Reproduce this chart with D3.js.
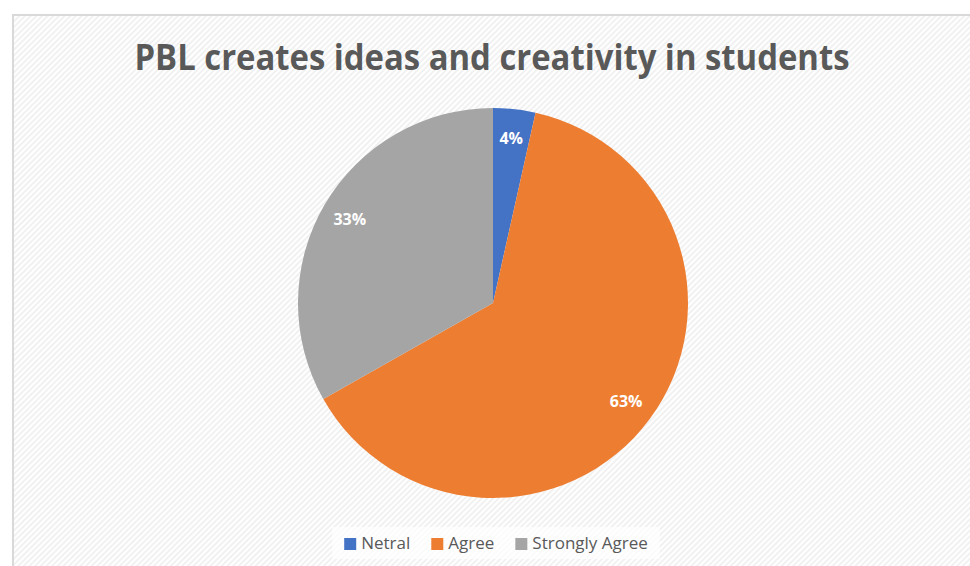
<!DOCTYPE html>
<html>
<head>
<meta charset="utf-8">
<script src="https://cdn.jsdelivr.net/npm/d3@7"></script>
<style>
  body { margin: 0; background: #fff; }
  svg { display: block; }
</style>
</head>
<body>
<div id="chart"></div>
<script>
// Data //
const categories = ["Netral", "Agree", "Strongly Agree"];
const values = [3.5, 63.3, 33.2];
const colors = ["#4472c4", "#ed7d31", "#a5a5a5"];
const titleText = "PBL creates ideas and creativity in students";

const width = 970, height = 566;

const svg = d3.select("#chart")
    .append("svg")
    .attr("width", width)
    .attr("height", height);

/* Hatched background of chart area */
const defs = svg.append("defs");
const pat = defs.append("pattern")
    .attr("id", "hatch")
    .attr("patternUnits", "userSpaceOnUse")
    .attr("width", 4)
    .attr("height", 4)
    .attr("patternTransform", "rotate(-45)");
pat.append("rect").attr("width", 4).attr("height", 4).attr("fill", "#ffffff");
pat.append("rect").attr("width", 4).attr("height", 2).attr("fill", "#f1f1f1");

svg.append("rect")
    .attr("x", 13)
    .attr("y", 15)
    .attr("width", 970)
    .attr("height", 570)
    .attr("fill", "url(#hatch)")
    .attr("stroke", "#d9d9d9")
    .attr("stroke-width", 2);

/* Title */
svg.append("text")
    .attr("x", 492)
    .attr("y", 70)
    .attr("text-anchor", "middle")
    .attr("font-family", "Open Sans")
    .attr("font-weight", "bold")
    .attr("font-size", "35px")
    .attr("fill", "#595959")
    .attr("textLength", 715)
    .attr("lengthAdjust", "spacingAndGlyphs")
    .text(titleText);

/* Pie */
const cx = 493, cy = 303, radius = 195;
const g = svg.append("g").attr("transform", `translate(${cx},${cy})`);

const pie = d3.pie().sort(null).value(d => d.value);
const data = categories.map((c, i) => ({ name: c, value: values[i], color: colors[i] }));
const arcs = pie(data);

const arc = d3.arc().innerRadius(0).outerRadius(radius);
const labelArc = d3.arc().innerRadius(radius * 0.85).outerRadius(radius * 0.85);

g.selectAll("path.slice")
    .data(arcs)
    .join("path")
    .attr("class", "slice")
    .attr("d", arc)
    .attr("fill", d => d.data.color);

const total = d3.sum(values);
g.selectAll("text.pct")
    .data(arcs)
    .join("text")
    .attr("class", "pct")
    .attr("transform", d => `translate(${labelArc.centroid(d)})`)
    .attr("text-anchor", "middle")
    .attr("dy", "0.35em")
    .attr("font-family", "Open Sans")
    .attr("font-weight", "bold")
    .attr("font-size", "16px")
    .attr("fill", "#ffffff")
    .text(d => Math.round(d.data.value / total * 100) + "%");

/* Legend */
const legend = svg.append("g");
const legendBg = legend.append("rect")
    .attr("fill", "#ffffff")
    .attr("opacity", 0.7);

let xPos = 0;
data.forEach((d, i) => {
    const item = legend.append("g").attr("transform", `translate(${xPos},0)`);
    item.append("rect")
        .attr("x", 0)
        .attr("y", -11)
        .attr("width", 12)
        .attr("height", 12)
        .attr("fill", d.color);
    const t = item.append("text")
        .attr("x", 17)
        .attr("y", 0)
        .attr("font-family", "Open Sans")
        .attr("font-size", "17px")
        .attr("fill", "#595959")
        .text(d.name);
    const w = t.node().getComputedTextLength();
    xPos += 17 + w + 21;
});
const legendW = xPos - 21;
const legendX = 496 - legendW / 2;
legend.attr("transform", `translate(${legendX},549)`);
legendBg.attr("x", -12).attr("y", -22).attr("width", legendW + 24).attr("height", 32);
</script>
</body>
</html>
